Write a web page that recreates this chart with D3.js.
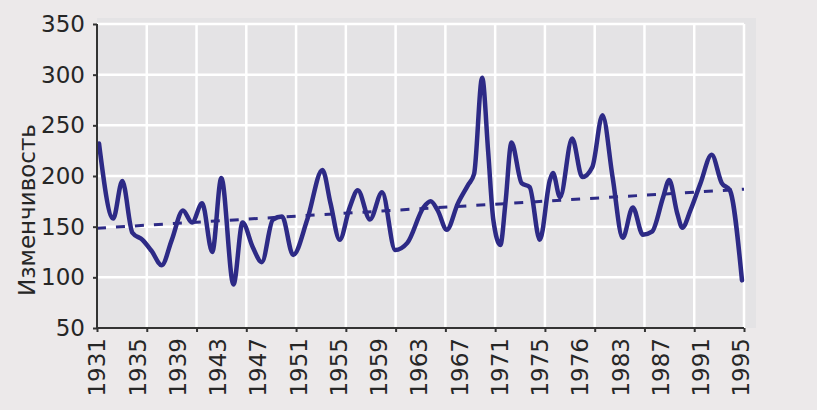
<!DOCTYPE html>
<html>
<head>
<meta charset="utf-8">
<script src="https://cdn.jsdelivr.net/npm/d3@7"></script>
<style>
  html, body { margin: 0; padding: 0; background: #ece9ea; }
  svg { display: block; }
</style>
</head>
<body>
<svg id="chart"></svg>
<script>
// turning points of the curve (year, value)
var years = [1931.2, 1932.6, 1933.5, 1934.5, 1935.5, 1936.4, 1937.4, 1938.4, 1939.5, 1940.4,
  1941.4, 1942.4, 1943.3, 1944.5, 1945.4, 1946.4, 1947.3, 1948.4, 1949.3, 1950.4,
  1951.8, 1953.3, 1954.1, 1955.0, 1956.0, 1956.8, 1958.0, 1959.2, 1960.5, 1961.7,
  1963.3, 1964.0, 1964.7, 1965.6, 1966.7, 1967.7, 1968.3, 1969.1, 1969.7, 1970.2,
  1970.9, 1971.4, 1972.0, 1973.0, 1973.8, 1974.8, 1975.8, 1976.1, 1976.8, 1978.0,
  1979.0, 1980.0, 1981.0, 1982.0, 1983.0, 1984.0, 1985.0, 1985.9, 1987.0, 1987.6,
  1988.4, 1988.9, 1989.7, 1990.7, 1991.8, 1992.8, 1993.6, 1994.8];
var values = [232, 158, 195, 144, 137, 126, 112, 137, 166, 154,
  173, 125, 198, 93, 154, 130, 115, 157, 160, 122,
  157, 206, 173, 137, 169, 186, 157, 184, 127, 134,
  169, 175, 166, 147, 173, 191, 202, 297, 223, 157,
  132, 173, 233, 193, 189, 137, 196, 203, 179, 237,
  199, 209, 260, 199, 139, 169, 142, 145, 179, 196,
  163, 149, 166, 193, 221, 193, 186, 97];

// dashed linear trend
var trendYears = [1931, 1995];
var trendValues = [148.5, 187];

var xLabels = ["1931", "1935", "1939", "1943", "1947", "1951", "1955", "1959", "1963",
  "1967", "1971", "1975", "1976", "1983", "1987", "1991", "1995"];
var yTicks = [50, 100, 150, 200, 250, 300, 350];
var gridCount = 14;

var W = 817, H = 410,
    margin = {top: 24, right: 73, bottom: 82, left: 97},
    innerW = W - margin.left - margin.right,
    innerH = H - margin.top - margin.bottom,
    lineColor = "#2d2a86",
    font = "'DejaVu Sans', sans-serif";

var svg = d3.select("#chart").attr("width", W).attr("height", H);

var x = d3.scaleLinear().domain([1931, 1995]).range([0, innerW]),
    y = d3.scaleLinear().domain([50, 350]).range([innerH, 0]),
    gx = d3.scaleLinear().domain([0, gridCount - 1]).range([0, innerW]),
    lx = d3.scalePoint().domain(xLabels).range([0, innerW - 3]);

var g = svg.append("g").attr("transform", "translate(" + margin.left + "," + margin.top + ")");

g.append("rect")
    .attr("x", 0).attr("y", -6)
    .attr("width", innerW + 12).attr("height", innerH + 6)
    .attr("fill", "#e4e3e5");

// grid
g.selectAll(".hgrid")
    .data(yTicks.filter(function(d) { return d > 50; }))
  .enter().append("line")
    .attr("x1", 0).attr("x2", innerW)
    .attr("y1", function(d) { return y(d); })
    .attr("y2", function(d) { return y(d); })
    .attr("stroke", "#fff").attr("stroke-width", 2.5);

g.selectAll(".vgrid")
    .data(d3.range(1, gridCount))
  .enter().append("line")
    .attr("x1", function(d) { return gx(d); })
    .attr("x2", function(d) { return gx(d); })
    .attr("y1", 0).attr("y2", innerH)
    .attr("stroke", "#fff").attr("stroke-width", 2.5);

// trend
var pts = years.map(function(d, i) { return [d, values[i]]; });
var trend = trendYears.map(function(d, i) { return [d, trendValues[i]]; });

var line = d3.line()
    .x(function(d) { return x(d[0]); })
    .y(function(d) { return y(d[1]); });

g.append("path")
    .datum(trend)
    .attr("d", line)
    .attr("fill", "none")
    .attr("stroke", lineColor)
    .attr("stroke-width", 3)
    .attr("stroke-dasharray", "9,10");

g.append("path")
    .datum(pts)
    .attr("d", line.curve(d3.curveMonotoneX))
    .attr("fill", "none")
    .attr("stroke", lineColor)
    .attr("stroke-width", 4.5)
    .attr("stroke-linejoin", "round")
    .attr("stroke-linecap", "round");

// axes
var yAxis = g.append("g")
    .call(d3.axisLeft(y).tickValues(yTicks).tickSize(4).tickPadding(8));
yAxis.select(".domain").attr("stroke", "#333").attr("stroke-width", 2).attr("d", "M0,0V" + innerH);
yAxis.selectAll(".tick line").attr("stroke", "#333").attr("stroke-width", 2);
yAxis.selectAll("text")
    .attr("font-family", font).attr("font-size", 23).attr("fill", "#262626");

var xAxis = g.append("g")
    .attr("transform", "translate(0," + innerH + ")")
    .call(d3.axisBottom(gx).tickValues(d3.range(gridCount)).tickSize(4).tickFormat(""));
xAxis.select(".domain").attr("stroke", "#333").attr("stroke-width", 2).attr("d", "M0,0H" + innerW);
xAxis.selectAll(".tick line").attr("stroke", "#333").attr("stroke-width", 2);

g.append("g")
    .attr("transform", "translate(0," + innerH + ")")
  .selectAll("text")
    .data(xLabels)
  .enter().append("text")
    .attr("transform", function(d) { return "translate(" + lx(d) + ",10) rotate(-90)"; })
    .attr("text-anchor", "end")
    .attr("dy", "0.36em")
    .attr("font-family", font).attr("font-size", 23).attr("fill", "#262626")
    .text(function(d) { return d; });

svg.append("text")
    .attr("transform", "translate(27,210) rotate(-90)")
    .attr("text-anchor", "middle")
    .attr("dy", "0.36em")
    .attr("font-family", font).attr("font-size", 23).attr("fill", "#262626")
    .text("Изменчивость");
</script>
</body>
</html>
